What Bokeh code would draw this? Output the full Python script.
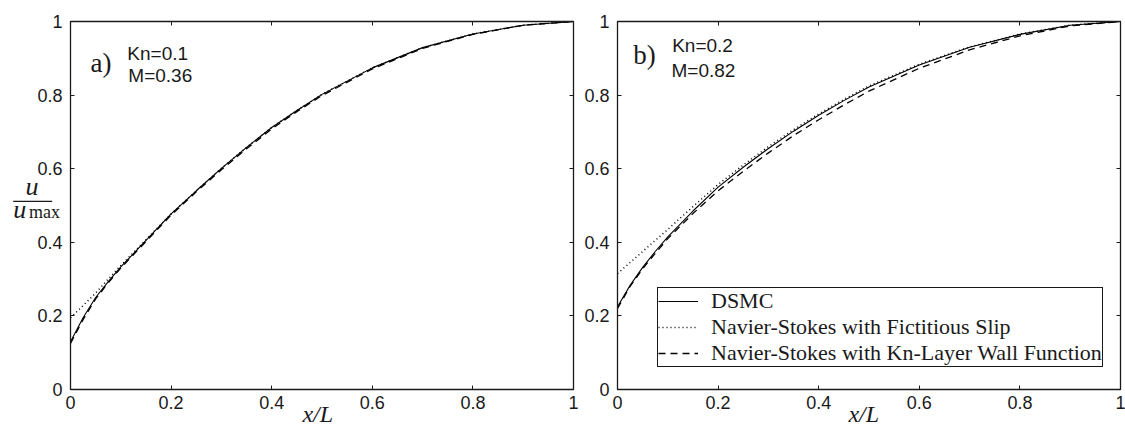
from bokeh.plotting import figure
from bokeh.layouts import row
from bokeh.models import (Range1d, FixedTicker, NumeralTickFormatter, LinearAxis,
                          Label, Legend, LegendItem, BoxAnnotation)
from bokeh.embed import file_html
from bokeh.resources import INLINE

# ---- data ----
x_pos = [0, 0.025, 0.05, 0.075, 0.1, 0.15, 0.2, 0.25, 0.3, 0.35, 0.4, 0.45, 0.5, 0.6, 0.7, 0.8, 0.9, 1.0]

# panel a) Kn=0.1, M=0.36
dsmc_a = [0.13, 0.195, 0.25, 0.293, 0.333, 0.405, 0.477, 0.54, 0.601, 0.658, 0.712, 0.758, 0.802, 0.874, 0.929, 0.966, 0.99, 1.0]
slip_a = [0.195, 0.228, 0.262, 0.30, 0.337, 0.407, 0.477, 0.54, 0.601, 0.658, 0.712, 0.758, 0.802, 0.874, 0.929, 0.966, 0.99, 1.0]
wall_a = [0.125, 0.19, 0.246, 0.29, 0.33, 0.402, 0.474, 0.537, 0.597, 0.654, 0.708, 0.755, 0.799, 0.871, 0.927, 0.965, 0.99, 1.0]

# panel b) Kn=0.2, M=0.82
dsmc_b = [0.225, 0.283, 0.332, 0.375, 0.415, 0.485, 0.55, 0.604, 0.655, 0.702, 0.745, 0.785, 0.822, 0.882, 0.93, 0.965, 0.99, 1.0]
slip_b = [0.315, 0.345, 0.375, 0.405, 0.435, 0.497, 0.557, 0.61, 0.66, 0.706, 0.749, 0.788, 0.825, 0.884, 0.931, 0.966, 0.99, 1.0]
wall_b = [0.22, 0.28, 0.328, 0.37, 0.41, 0.478, 0.54, 0.593, 0.643, 0.69, 0.733, 0.773, 0.811, 0.873, 0.923, 0.961, 0.988, 1.0]

ticks = [0, 0.2, 0.4, 0.6, 0.8, 1.0]
series_names = ["DSMC", "Navier-Stokes with Fictitious Slip",
                "Navier-Stokes with Kn-Layer Wall Function"]

SANS = "Liberation Sans"
SERIF = "Liberation Serif"
INK = "#1a1a1a"

XPX, YPX = 503, 368          # pixels per data unit
TOP_PAD, BOT_PAD = 21, 38    # room above / below the unit box


def make_panel(tag, kn_text, m_text, dsmc, slip, wall, left_pad, right_pad,
               tag_pos, kn_pos, m_pos, xl_pos, show_legend, ylabel):
    p = figure(frame_width=left_pad + XPX + right_pad,
               frame_height=TOP_PAD + YPX + BOT_PAD,
               min_border=0,
               x_range=Range1d(-left_pad / XPX, 1 + right_pad / XPX),
               y_range=Range1d(-BOT_PAD / YPX, 1 + TOP_PAD / YPX),
               output_backend="svg", toolbar_location=None,
               x_axis_type=None, y_axis_type=None)
    p.grid.visible = False
    p.outline_line_color = None
    p.background_fill_color = "white"
    p.border_fill_color = "white"

    def style_main(ax, standoff, loc):
        ax.fixed_location = loc
        ax.ticker = FixedTicker(ticks=ticks)
        ax.formatter = NumeralTickFormatter(format="0.[0]")
        ax.minor_tick_line_color = None
        ax.major_tick_in = 4
        ax.major_tick_out = 0
        ax.major_tick_line_color = INK
        ax.axis_line_color = None
        ax.major_label_text_font = SANS
        ax.major_label_text_font_size = "18px"
        ax.major_label_text_color = INK
        ax.major_label_standoff = standoff

    def style_ticks_only(ax, loc):
        ax.fixed_location = loc
        ax.ticker = FixedTicker(ticks=[], minor_ticks=ticks)
        ax.major_tick_line_color = None
        ax.minor_tick_line_color = INK
        ax.minor_tick_in = 4
        ax.minor_tick_out = 0
        ax.axis_line_color = None

    xb = LinearAxis(); style_main(xb, 6, 0)
    yl = LinearAxis(); style_main(yl, 8, 0)
    xt = LinearAxis(); style_ticks_only(xt, 1)
    yr = LinearAxis(); style_ticks_only(yr, 1)
    p.add_layout(xb, "below")
    p.add_layout(yl, "left")
    p.add_layout(xt, "above")
    p.add_layout(yr, "right")

    # the unit box of the axes
    p.add_layout(BoxAnnotation(left=0, right=1, bottom=0, top=1,
                               fill_color=None, fill_alpha=0,
                               line_color=INK, line_width=1.3, line_alpha=1))

    r1 = p.line(x_pos, dsmc, line_color="black", line_width=1.1)
    r2 = p.line(x_pos, slip, line_color="black", line_width=1.5, line_dash="1 3")
    r3 = p.line(x_pos, wall, line_color="black", line_width=1.3, line_dash="7 5")

    def lab(x, y, text, font, size, style="normal"):
        p.add_layout(Label(x=x, y=y, text=text, text_font=font, text_font_size=size,
                           text_font_style=style, text_color=INK,
                           text_baseline="middle", text_align="left"))

    lab(tag_pos[0], tag_pos[1], tag, SERIF, "27px")
    lab(kn_pos[0], kn_pos[1], kn_text, SANS, "19px")
    lab(m_pos[0], m_pos[1], m_text, SANS, "19px")
    # x-axis title
    lab(xl_pos, -0.0658, "x/L", SERIF, "24px", "italic")

    if ylabel:
        lab(-0.0895, 0.5503, "u", SERIF, "26px", "italic")
        p.add_layout(BoxAnnotation(left=-0.1139, right=-0.0364, bottom=0.5092, top=0.5127,
                                   fill_color=INK, fill_alpha=1, line_color=None))
        lab(-0.114, 0.4891, "u", SERIF, "26px", "italic")
        lab(-0.0825, 0.4818, "max", SERIF, "18px")

    if show_legend:
        leg = Legend(items=[LegendItem(label=series_names[0], renderers=[r1]),
                            LegendItem(label=series_names[1], renderers=[r2]),
                            LegendItem(label=series_names[2], renderers=[r3])],
                     location=(74, 60))
        leg.label_text_font = SERIF
        leg.label_text_font_size = "22px"
        leg.label_text_color = INK
        leg.border_line_color = INK
        leg.border_line_width = 1
        leg.border_line_alpha = 1
        leg.background_fill_alpha = 1
        leg.padding = 0
        leg.spacing = 0
        leg.margin = 0
        leg.glyph_width = 40
        leg.label_standoff = 13
        leg.label_height = 20
        leg.glyph_height = 20
        p.add_layout(leg, "center")
    return p


p1 = make_panel("a)", "Kn=0.1", "M=0.36", dsmc_a, slip_a, wall_a, 70, 10,
                (0.040, 0.888), (0.113, 0.9139), (0.115, 0.8541), 0.461, False, True)
p2 = make_panel("b)", "Kn=0.2", "M=0.82", dsmc_b, slip_b, wall_b, 34, 5,
                (0.0312, 0.9098), (0.1087, 0.9337), (0.1074, 0.8677), 0.459, True, False)

layout = row(p1, p2, spacing=0)
open("out.html", "w").write(file_html(layout, INLINE))
